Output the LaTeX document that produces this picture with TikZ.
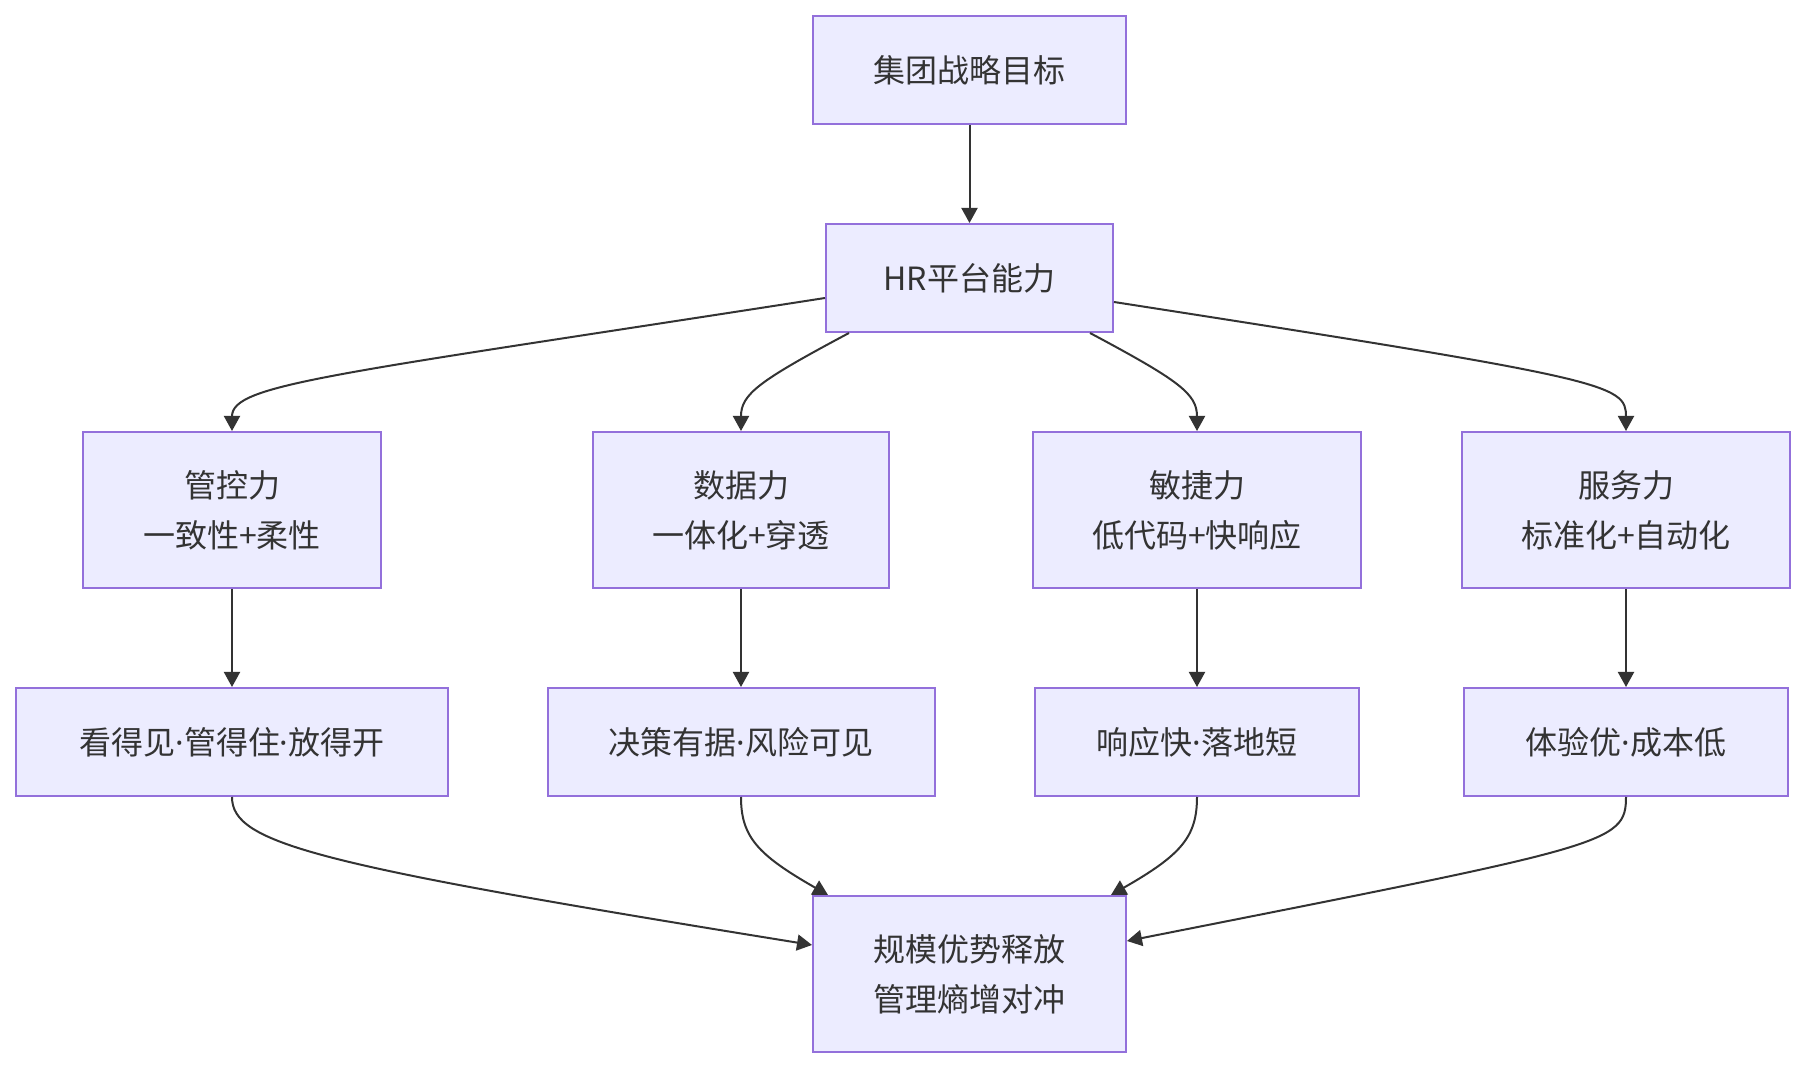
\documentclass[tikz,border=0pt]{standalone}
\usepackage{fontspec}
\setmainfont{Noto Sans CJK SC}
\newfontfamily\latinfont{Noto Sans}
\newcommand{\mdot}{{\latinfont ·}}
\usetikzlibrary{arrows.meta}
\definecolor{boxfill}{HTML}{ECECFF}
\definecolor{boxline}{HTML}{9370DB}
\definecolor{ink}{HTML}{333333}

\begin{document}
\begin{tikzpicture}[x=0.5pt,y=-0.5pt,>={Triangle[length=7.5pt,width=8pt]},every node/.style={font=\fontsize{16pt}{25pt}\selectfont,text=ink},box/.style={draw=boxline,line width=1pt,fill=boxfill,align=center,inner sep=0pt,minimum height=54pt},tall/.style={box,minimum height=78pt},flow/.style={->,line width=1pt,draw=ink}]
\useasboundingbox (0,0) rectangle (1806,1068);
\node[box,minimum width=156.5pt] (goal) at (969.5,70) {集团战略目标};
\node[box,minimum width=143.5pt] (hr) at (969.5,278) {HR平台能力};
% four capabilities
\node[tall,minimum width=149pt] (gk) at (232,510) {管控力\\一致性+柔性};
\node[tall,minimum width=148pt] (sj) at (741,510) {数据力\\一体化+穿透};
\node[tall,minimum width=164pt] (mj) at (1197,510) {敏捷力\\低代码+快响应};
\node[tall,minimum width=164pt] (fw) at (1626,510) {服务力\\标准化+自动化};
\node[box,minimum width=216pt] (kd) at (232,742) {看得见\mdot 管得住\mdot 放得开};
\node[box,minimum width=193.5pt] (jc) at (741,742) {决策有据\mdot 风险可见};
\node[box,minimum width=162pt] (xy) at (1197,742) {响应快\mdot 落地短};
\node[box,minimum width=162pt] (ty) at (1626,742) {体验优\mdot 成本低};
\node[tall,minimum width=156.5pt] (res) at (969.5,974) {规模优势释放\\管理熵增对冲};
\draw[flow] (goal.south) -- (hr.north);
\draw[flow] ([yshift=-10pt]hr.west) .. controls +(-495,77) and +(0,-47) .. (gk.north);
\draw[flow] ([xshift=12pt]hr.south west) .. controls +(-90,48) and +(0,-37) .. (sj.north);
\draw[flow] ([xshift=-12pt]hr.south east) .. controls +(90,48) and +(0,-37) .. (mj.north);
\draw[flow] ([yshift=-12pt]hr.east) .. controls +(495,77) and +(0,-47) .. (fw.north);
\draw[flow] (gk.south) -- (kd.north);\draw[flow] (sj.south) -- (jc.north);\draw[flow] (mj.south) -- (xy.north);\draw[flow] (fw.south) -- (ty.north);
% into the result
\draw[flow] (kd.south) .. controls +(0,47) and +(-495,-80) .. ([yshift=14.5pt]res.west);
\draw[flow] (jc.south) .. controls +(0,40) and +(-70,-40) .. ([xshift=8pt]res.north west);
\draw[flow] (xy.south) .. controls +(0,40) and +(70,-40) .. ([xshift=-8pt]res.north east);
\draw[flow] (ty.south) .. controls +(0,47) and +(480,-95) .. ([yshift=16.5pt]res.east);
\end{tikzpicture}
\end{document}
